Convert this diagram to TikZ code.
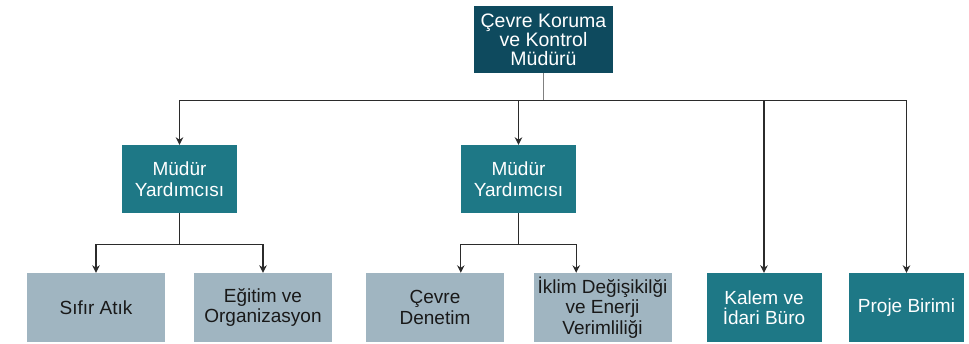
\documentclass[tikz,border=0pt]{standalone}
\usepackage{fontspec}
\setmainfont{Liberation Sans}
\usetikzlibrary{arrows.meta,positioning}
\definecolor{headcol}{HTML}{0E4A5E}
\definecolor{tealcol}{HTML}{1E7886}
\definecolor{greycol}{HTML}{A0B5C1}
\definecolor{linecol}{HTML}{2B2B2B}
\begin{document}
\begin{tikzpicture}[x=1pt,y=-1pt,
  unit/.style={draw=none,inner sep=0pt,align=center,minimum height=68pt,
    font=\fontsize{19}{20.5}\selectfont},
  head/.style={unit,fill=headcol,text=white,minimum width=139pt,minimum height=67pt,
    font=\fontsize{19.5}{19}\selectfont},
  vice/.style={unit,fill=tealcol,text=white,minimum width=115pt},
  office/.style={unit,fill=greycol,text=black!90,minimum width=138pt,minimum height=69pt},
  staff/.style={unit,fill=tealcol,text=white,minimum width=115pt,minimum height=69pt},
  arr/.style={draw=linecol,line width=1.2pt,-{Stealth[length=7.5pt,width=7.5pt]}}]
\useasboundingbox (0,0) rectangle (969,344);

\node[head] (top) at (543.5,39.5) {Çevre Koruma\\ve Kontrol\\Müdürü};

\node[vice] (vicea) at (179.5,179) {Müdür\\Yardımcısı};
\node[vice] (viceb) at (518.5,179) {Müdür\\Yardımcısı};

\node[office] (sifir) at (96,307.5) {Sıfır Atık};
\node[office] (egitim) at (263,307.5) {Eğitim ve\\Organizasyon};
\node[office] (denetim) at (435,307.5) {Çevre\\Denetim};
\node[office] (iklim) at (602.5,307.5) {İklim Değişikilği\\ve Enerji\\Verimliliği};
\node[staff] (kalem) at (764,307.5) {Kalem ve\\İdari Büro};
\node[staff] (proje) at (906.5,307.5) {Proje Birimi};

% main bus
\draw[draw=gray,line width=1.2pt] (top.south) -- ++(0,27);
\draw[arr] (top.south) ++(0,27) -| (vicea);
\draw[arr] (top.south) ++(0,27) -| (viceb);
\draw[arr] (top.south) ++(0,27) -| (kalem);
\draw[arr] (top.south) ++(0,27) -| (proje);

% sub units
\draw[arr] (vicea.south) -- ++(0,31) -| (sifir);
\draw[arr] (vicea.south) -- ++(0,31) -| (egitim);
\draw[arr] (viceb.south) -- ++(0,31) -| (denetim.north -| viceb.west);
\draw[arr] (viceb.south) -- ++(0,31) -| (iklim.north -| viceb.east);
\end{tikzpicture}
\end{document}
